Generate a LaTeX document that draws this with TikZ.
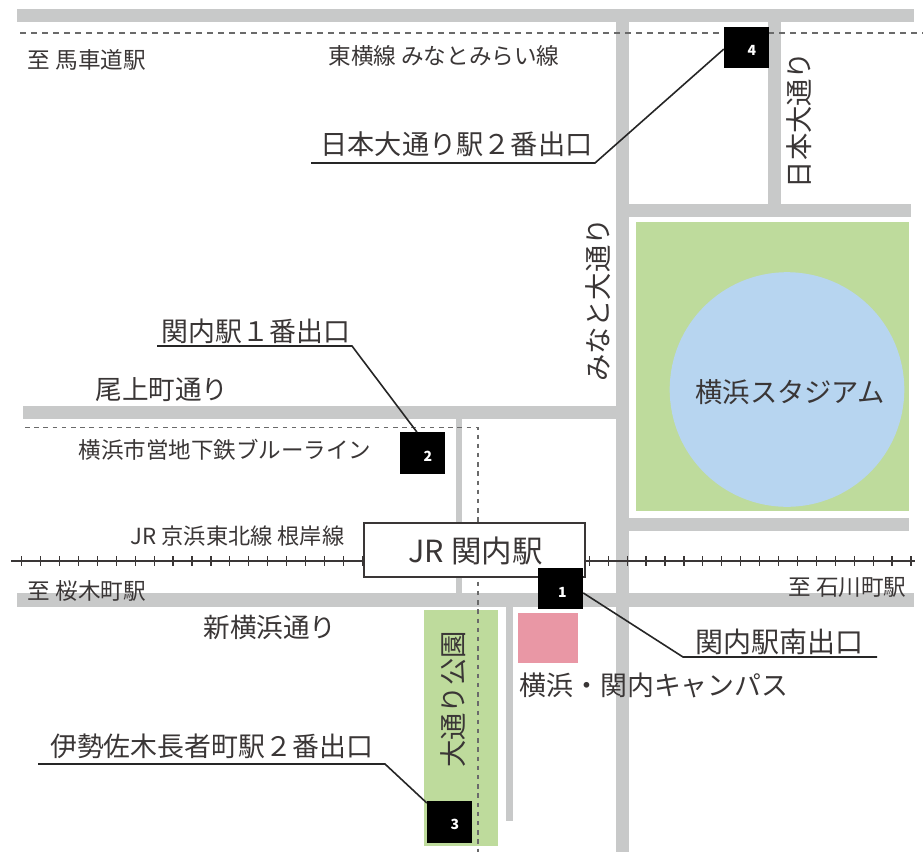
\documentclass[tikz,border=0pt]{standalone}
\usepackage{fontspec}
\setmainfont{Noto Sans CJK JP}
\newcommand{\fsz}[1]{\fontsize{#1}{#1}\selectfont}
\definecolor{roadc}{HTML}{C8C9C9}
\definecolor{parkc}{HTML}{BEDB9C}
\definecolor{stadc}{HTML}{B7D5F0}
\definecolor{pinkc}{HTML}{E997A5}
\definecolor{inkc}{HTML}{3A3636}
\definecolor{dashc}{HTML}{6A6A6A}
\tikzset{
  road/.style={fill=roadc,draw=none},
  park/.style={fill=parkc,draw=none},
  subway/.style={draw=dashc,line width=1.5pt,dash pattern=on 5.5pt off 5.5pt},
  rail/.style={draw=inkc,line width=1.7pt},
  tie/.style={draw=inkc,line width=1.2pt},
  leader/.style={draw=black!85,line width=1.6pt,line join=miter},
  lab/.style={text=inkc,inner sep=0pt,anchor=center},
  big/.style={lab,font=\fsz{26.9}},
  small/.style={lab,font=\fsz{22.6}},
  exitbox/.style={fill=black,text=white,minimum width=45pt,minimum height=41.5pt,inner sep=0pt},
  exitnum/.style={inner sep=0pt,text=white,font=\fsz{14}\bfseries},
}
\begin{document}
\begin{tikzpicture}[x=1pt,y=-1pt]
\useasboundingbox (0,0) rectangle (923,852);
\fill[white] (0,0) rectangle (923,852);
% roads
\fill[road] (17,9) rectangle (914,22);
\fill[road] (616,22) rectangle (629,852);
\fill[road] (768,22) rectangle (781,204);
\fill[road] (629,204) rectangle (911,217);
\fill[road] (629,518) rectangle (909,531);
\fill[road] (23,406) rectangle (616,419);
\fill[road] (456,419) rectangle (462,593);
\fill[road] (17,593) rectangle (914,607);
\fill[road] (506,607) rectangle (513,821);
% parks and buildings
\fill[park] (636,222) rectangle (909,511);
\fill[stadc] (787,389.5) circle [radius=117.3];
\fill[park] (424,610) rectangle (498,846);
\fill[pinkc] (518,613) rectangle (578,663);
% dashed lines
\draw[subway] (20,33) -- (923,33);
\draw[subway,dash pattern=on 4.5pt off 4.7pt] (25,427.5) -- (478,427.5) -- (478,852);
% JR line
\draw[rail] (11,560.7) -- (915,560.7);
\foreach \k in {0,...,47} \draw[tie] ({21.7+\k*18.92},556) -- ({21.7+\k*18.92},565.5);
% station
\node[draw=inkc,line width=1.3pt,fill=white,minimum width=221pt,minimum height=54pt,inner sep=0pt] (station) at (474.5,550) {};
\node[lab,font=\fsz{30.5}] (stationlabel) at (475.5,551) {JR 関内駅};
% exit boxes
\node[exitbox] (n1) at (560.5,588.5) {};
\node[exitbox] (n2) at (422.5,453) {};
\node[exitbox] (n3) at (449.5,822) {};
\node[exitbox] (n4) at (746.5,47.5) {};
\node[exitnum] (t1) at (562.5,592) {1};
\node[exitnum] (t2) at (428,456) {2};
\node[exitnum] (t3) at (455,824.5) {3};
\node[exitnum] (t4) at (752,50) {4};
% leaders
\coordinate (c1a) at (683,657); \coordinate (c1b) at (877,657);
\coordinate (c2a) at (352,346); \coordinate (c2b) at (157,346);
\coordinate (c3a) at (385,764); \coordinate (c3b) at (38,764);
\coordinate (c4a) at (595,163); \coordinate (c4b) at (311,163);
\draw[leader] (n1.-11) -- (c1a) -- (c1b);
\draw[leader] (n2.105) -- (c2a) -- (c2b);
\draw[leader] (n3.140) -- (c3a) -- (c3b);
\draw[leader] (n4.184) -- (c4a) -- (c4b);
% labels
\node[small] (l1) at (87,59.5) {至 馬車道駅};
\node[small] (l2) at (444,55.5) {東横線 みなとみらい線};
\node[big,font=\fsz{27.2}] (l3) at (456.5,144.5) {日本大通り駅２番出口};
\node[big] (l4) at (255.8,331.5) {関内駅１番出口};
\node[big,font=\fsz{26.6}] (l5) at (162,390) {尾上町通り};
\node[lab,font=\fsz{22.5}] (l6) at (225,450) {横浜市営地下鉄ブルーライン};
\node[small,font=\fsz{22.2}] (l7) at (237.5,536) {JR 京浜東北線 根岸線};
\node[small] (l8) at (87,591) {至 桜木町駅};
\node[big,font=\fsz{26.6}] (l9) at (270,627) {新横浜通り};
\node[big] (l10) at (211.5,746) {伊勢佐木長者町駅２番出口};
\node[big,rotate=90,font=\fsz{27.3}] (l11) at (453,699.5) {大通り公園};
\node[big,rotate=90,font=\fsz{27.3}] (l12) at (598,300) {みなと大通り};
\node[big,rotate=90,font=\fsz{27.3}] (l13) at (799,120) {日本大通り};
\node[big,font=\fsz{27.3}] (l14) at (790,392) {横浜スタジアム};
\node[big,font=\fsz{28}] (l15) at (779.5,642) {関内駅南出口};
\node[big] (l16) at (654,685) {横浜・関内キャンパス};
\node[small] (l17) at (847.5,587) {至 石川町駅};
\end{tikzpicture}
\end{document}
